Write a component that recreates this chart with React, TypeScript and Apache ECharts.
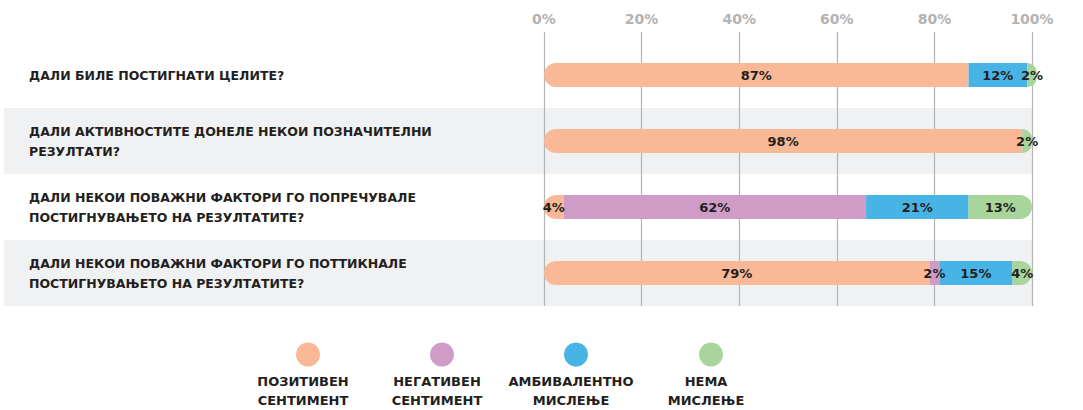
import React, { useEffect, useRef } from "react";
import * as echarts from "echarts";

const categories = [
  "ДАЛИ БИЛЕ ПОСТИГНАТИ ЦЕЛИТЕ?",
  "ДАЛИ АКТИВНОСТИТЕ ДОНЕЛЕ НЕКОИ ПОЗНАЧИТЕЛНИ\nРЕЗУЛТАТИ?",
  "ДАЛИ НЕКОИ ПОВАЖНИ ФАКТОРИ ГО ПОПРЕЧУВАЛЕ\nПОСТИГНУВАЊЕТО НА РЕЗУЛТАТИТЕ?",
  "ДАЛИ НЕКОИ ПОВАЖНИ ФАКТОРИ ГО ПОТТИКНАЛЕ\nПОСТИГНУВАЊЕТО НА РЕЗУЛТАТИТЕ?",
];
const positive = [87, 98, 4, 79];
const negative = [0, 0, 62, 2];
const ambivalent = [12, 0, 21, 15];
const noOpinion = [2, 2, 13, 4];
const seriesNames = [
  "ПОЗИТИВЕН СЕНТИМЕНТ",
  "НЕГАТИВЕН СЕНТИМЕНТ",
  "АМБИВАЛЕНТНО МИСЛЕЊЕ",
  "НЕМА МИСЛЕЊЕ",
];
const seriesColors = ["#f9b896", "#cf9cc8", "#48b4e6", "#a8d59c"];
const axisTicks = [0, 20, 40, 60, 80, 100];

const FONT = '"DejaVu Sans", "Liberation Sans", Arial, sans-serif';
const legendCenters = [303, 437, 571, 706];

export default function App() {
  const ref = useRef<HTMLDivElement>(null);
  useEffect(() => {
    document.body.style.margin = "0";
    const chart = echarts.init(ref.current!, null, { renderer: "svg" });
    const values = [positive, negative, ambivalent, noOpinion];
    const radii = [[12, 0, 0, 12], 0, 0, [0, 12, 12, 0]];
    chart.setOption({
      animation: false,
      grid: [
        { left: 4, right: 51, top: 42, bottom: 104 },
        { left: 544, right: 51, top: 42, bottom: 104 },
      ],
      xAxis: [
        { type: "value", gridIndex: 0, show: false, min: 0, max: 100 },
        {
          type: "value",
          gridIndex: 1,
          position: "top",
          min: axisTicks[0],
          max: axisTicks[axisTicks.length - 1],
          interval: axisTicks[1] - axisTicks[0],
          axisLine: { show: false },
          axisTick: { show: true, length: 10, lineStyle: { color: "#b4b4b4", width: 1.2 } },
          splitLine: { show: true, lineStyle: { color: "#b4b4b4", width: 1.2 } },
          axisLabel: {
            formatter: "{value}%",
            color: "#b3b3b3",
            fontFamily: FONT,
            fontWeight: "bold",
            fontSize: 14,
            margin: 16,
          },
        },
      ],
      yAxis: [
        {
          type: "category",
          gridIndex: 0,
          data: categories,
          inverse: true,
          z: -1,
          axisLine: { show: false },
          axisTick: { show: false },
          axisLabel: { show: false },
          splitArea: { show: true, areaStyle: { color: ["rgba(255,255,255,0)", "#f0f1f3"] } },
        },
        {
          type: "category",
          gridIndex: 1,
          data: categories,
          inverse: true,
          axisLine: { show: false },
          axisTick: { show: false },
          axisLabel: {
            align: "left",
            margin: 515,
            lineHeight: 20,
            color: "#231f20",
            fontFamily: FONT,
            fontWeight: "bold",
            fontSize: 12.5,
          },
        },
      ],
      legend: seriesNames.map((n, i) => ({
        data: [n],
        left: legendCenters[i] - 12,
        top: 337,
        icon: "circle",
        itemWidth: 24,
        itemHeight: 25,
        selectedMode: false,
        formatter: () => "",
      })),
      graphic: seriesNames.map((n, i) => ({
        type: "text",
        x: legendCenters[i],
        y: 372,
        style: {
          text: n.replace(" ", "\n"),
          align: "center",
          verticalAlign: "top",
          fontFamily: FONT,
          fontWeight: "bold",
          fontSize: 13,
          lineHeight: 19,
          fill: "#231f20",
        },
      })),
      series: seriesNames.map((n, i) => ({
        name: n,
        type: "bar",
        xAxisIndex: 1,
        yAxisIndex: 1,
        stack: "total",
        barWidth: 24,
        clip: false,
        data: values[i],
        itemStyle: { color: seriesColors[i], borderRadius: radii[i] },
        label: {
          show: true,
          position: "inside",
          formatter: (p: any) => (p.value ? p.value + "%" : ""),
          color: "#231f20",
          fontFamily: FONT,
          fontWeight: "bold",
          fontSize: 13,
        },
      })),
    });
    return () => chart.dispose();
  }, []);
  return <div ref={ref} style={{ width: 1083, height: 410 }} />;
}
